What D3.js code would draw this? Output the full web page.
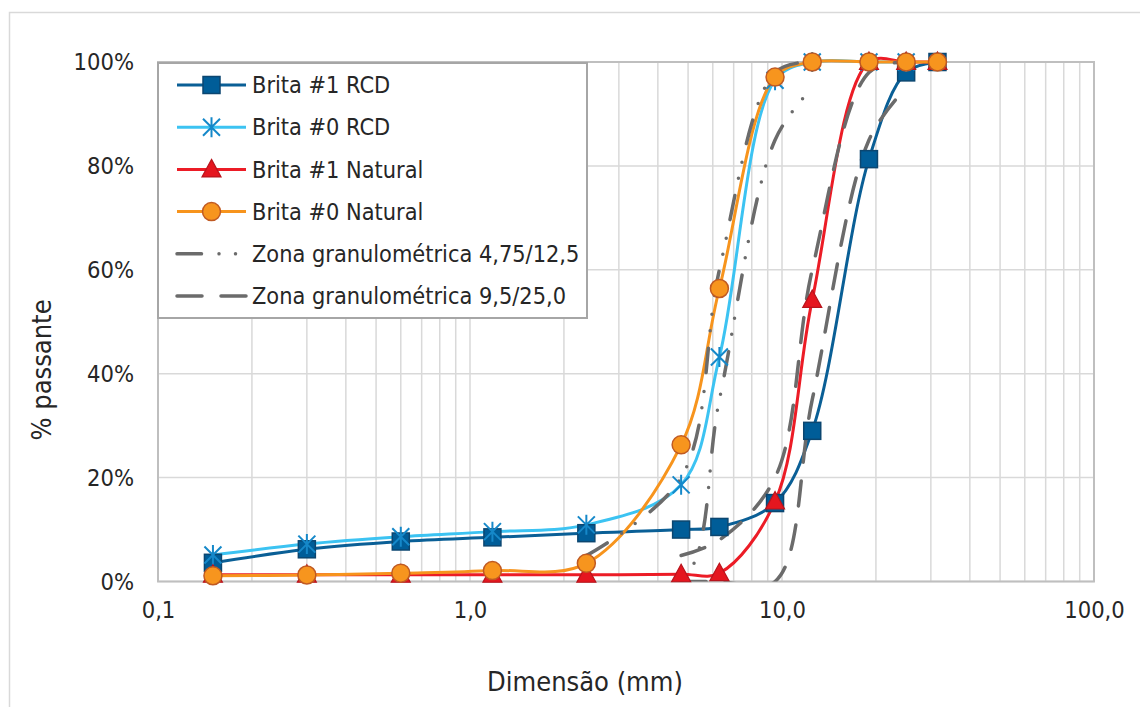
<!DOCTYPE html>
<html>
<head>
<meta charset="utf-8">
<script src="https://cdn.jsdelivr.net/npm/d3@7"></script>
<style>
  html, body { margin: 0; padding: 0; background: #fff; }
  svg { display: block; }
  text { font-family: "DejaVu Sans Condensed", "DejaVu Sans", sans-serif; fill: #262626; }
</style>
</head>
<body>
<svg id="chart" width="1140" height="707"></svg>
<script>
// Sieve openings (mm) used for every grading curve
const sieves = [0.15, 0.3, 0.6, 1.18, 2.36, 4.75, 6.3, 9.5, 12.5, 19, 25, 31.5];

// Percent passing for each aggregate
const brita1RCD     = [3.6, 6.2, 7.7, 8.5, 9.3, 10.0, 10.5, 15.1, 29.0, 81.3, 98.0, 100];
const brita0RCD     = [5.1, 7.2, 8.6, 9.6, 10.9, 18.6, 43.2, 96.5, 100, 100, 100];
const brita1Natural = [1.3, 1.3, 1.3, 1.3, 1.3, 1.4, 1.6, 15.4, 54.2, 100, 100, 100];
const brita0Natural = [1.1, 1.25, 1.6, 2.1, 3.5, 26.3, 56.4, 97.1, 100, 100, 100, 100];

// NBR 7211 grading zone limits (percent passing)
const zone475Sieves = [2.36, 4.75, 6.3, 9.5, 12.5];
const zone475Lower  = [0, 0, 35, 85, 95];
const zone475Upper  = [5, 20, 60, 98, 100];
const zone95Sieves  = [4.75, 6.3, 9.5, 12.5, 19, 25];
const zone95Lower   = [0, 0, 0, 35, 85, 95];
const zone95Upper   = [5, 8, 20, 60, 98, 100];

// Axis ticks
const xTickValues = [0.1, 1, 10, 100];
const xTickLabels = ["0,1", "1,0", "10,0", "100,0"];
const yTickValues = [0, 20, 40, 60, 80, 100];

const legendNames = [
  "Brita #1 RCD", "Brita #0 RCD", "Brita #1 Natural", "Brita #0 Natural",
  "Zona granulométrica 4,75/12,5", "Zona granulométrica 9,5/25,0"
];

const svg = d3.select("#chart");
const W = 1140, H = 707;
const plot = { left: 158, right: 1094, top: 62, bottom: 581.5 };

const x = d3.scaleLog().domain([0.1, 100]).range([plot.left, plot.right]);
const y = d3.scaleLinear().domain([0, 100]).range([plot.bottom, plot.top]);

// outer chart frame
svg.append("rect").attr("x", 9.5).attr("y", 12.5).attr("width", W + 20).attr("height", H + 20)
  .attr("fill", "#fff").attr("stroke", "#d9d9d9").attr("stroke-width", 1.5);

// gridlines
const minorX = [];
for (let dec = 0.1; dec < 100; dec *= 10) {
  for (let k = 1; k <= 9; k++) minorX.push(+(dec * k).toPrecision(3));
}
minorX.push(100);
const grid = svg.append("g").attr("stroke", "#d9d9d9").attr("stroke-width", 1.5);
grid.selectAll("line.vx").data(minorX).join("line")
  .attr("x1", d => x(d)).attr("x2", d => x(d))
  .attr("y1", plot.top).attr("y2", plot.bottom);
grid.selectAll("line.hy").data(yTickValues).join("line")
  .attr("x1", plot.left).attr("x2", plot.right)
  .attr("y1", d => y(d)).attr("y2", d => y(d));

// plot frame
svg.append("rect").attr("x", plot.left).attr("y", plot.top)
  .attr("width", plot.right - plot.left).attr("height", plot.bottom - plot.top)
  .attr("fill", "none").attr("stroke", "#bfbfbf").attr("stroke-width", 2);

// clip for curves
svg.append("clipPath").attr("id", "plotClip").append("rect")
  .attr("x", plot.left - 12).attr("y", plot.top - 12)
  .attr("width", plot.right - plot.left + 24).attr("height", plot.bottom - plot.top + 12);

const line = d3.line()
  .x(d => x(d[0])).y(d => y(d[1]))
  .curve(d3.curveCatmullRom.alpha(0.5));

const pair = (xs, ys) => ys.map((v, i) => [xs[i], v]);

const series = [
  { name: legendNames[0], data: pair(sieves, brita1RCD),     line: "#0a5f96", fill: "#005d98", stroke: "#0b4670", marker: "square" },
  { name: legendNames[1], data: pair(sieves, brita0RCD),     line: "#3cc3f2", fill: "none",    stroke: "#1588c9", marker: "star" },
  { name: legendNames[2], data: pair(sieves, brita1Natural), line: "#ec1c26", fill: "#e5161f", stroke: "#b8141c", marker: "triangle" },
  { name: legendNames[3], data: pair(sieves, brita0Natural), line: "#f7941d", fill: "#f7951e", stroke: "#c05a22", marker: "circle" }
];

const zoneDotted = "24.5,17.5,0,16.5,0,19";
const zoneDashed = "25,19";
const zoneColor = "#6b6b6b";
const zones = [
  { data: pair(zone475Sieves, zone475Lower), dash: zoneDotted },
  { data: pair(zone475Sieves, zone475Upper), dash: zoneDotted },
  { data: pair(zone95Sieves, zone95Lower),   dash: zoneDashed },
  { data: pair(zone95Sieves, zone95Upper),   dash: zoneDashed }
];

const curves = svg.append("g").attr("clip-path", "url(#plotClip)");
curves.selectAll("path.s").data(series).join("path")
  .attr("d", d => line(d.data)).attr("fill", "none")
  .attr("stroke", d => d.line).attr("stroke-width", 3).attr("stroke-linejoin", "round");
curves.selectAll("path.z").data(zones).join("path")
  .attr("d", d => line(d.data)).attr("fill", "none")
  .attr("stroke", zoneColor).attr("stroke-width", 3.5)
  .attr("stroke-dasharray", d => d.dash).attr("stroke-linecap", "round");

function drawMarker(g, type, fill, stroke) {
  if (type === "square") {
    g.append("rect").attr("x", -8.5).attr("y", -8.5).attr("width", 17).attr("height", 17)
      .attr("fill", fill).attr("stroke", stroke).attr("stroke-width", 1.5);
  } else if (type === "circle") {
    g.append("circle").attr("r", 9).attr("fill", fill).attr("stroke", stroke).attr("stroke-width", 1.5);
  } else if (type === "triangle") {
    g.append("path").attr("d", "M0,-10L9.5,7.5L-9.5,7.5Z")
      .attr("fill", fill).attr("stroke", stroke).attr("stroke-width", 1.2);
  } else if (type === "star") {
    g.append("path").attr("d", "M0,-10L0,10M-8.5,-8.5L8.5,8.5M-8.5,8.5L8.5,-8.5")
      .attr("fill", "none").attr("stroke", stroke).attr("stroke-width", 2);
  }
}

series.forEach(s => {
  const mg = svg.append("g");
  s.data.forEach(d => {
    const g = mg.append("g").attr("transform", `translate(${x(d[0])},${y(d[1])})`);
    drawMarker(g, s.marker, s.fill, s.stroke);
  });
});

// axis labels
const yAxis = d3.axisLeft(y).tickValues(yTickValues).tickFormat(d => d + "%").tickSize(0).tickPadding(24);
const yg = svg.append("g").attr("transform", `translate(${plot.left},0)`).call(yAxis);
yg.select(".domain").remove();
yg.selectAll("text").attr("font-size", 23.5).attr("fill", "#262626")
  .style("font-family", '"DejaVu Sans Condensed", "DejaVu Sans", sans-serif');

const xAxis = d3.axisBottom(x).tickValues(xTickValues).tickFormat((d, i) => xTickLabels[i]).tickSize(0).tickPadding(20);
const xg = svg.append("g").attr("transform", `translate(0,${plot.bottom})`).call(xAxis);
xg.select(".domain").remove();
xg.selectAll("text").attr("font-size", 23.5).attr("fill", "#262626")
  .style("font-family", '"DejaVu Sans Condensed", "DejaVu Sans", sans-serif');

svg.append("text").attr("x", 585).attr("y", 691).attr("text-anchor", "middle")
  .attr("font-size", 27).text("Dimensão (mm)");
svg.append("text").attr("transform", "translate(51,370) rotate(-90)").attr("text-anchor", "middle")
  .attr("font-size", 27).text("% passante");

// legend
const legend = svg.append("g");
legend.append("rect").attr("x", 158).attr("y", 63).attr("width", 429).attr("height", 255)
  .attr("fill", "#fff").attr("stroke", "#a6a6a6").attr("stroke-width", 2);
const legendItems = [
  ...series.map(s => ({ name: s.name, color: s.line, marker: s.marker, fill: s.fill, stroke: s.stroke })),
  { name: legendNames[4], color: zoneColor, dash: zoneDotted },
  { name: legendNames[5], color: zoneColor, dash: zoneDashed }
];
legendItems.forEach((it, i) => {
  const cy = 85 + i * 42.2;
  const g = legend.append("g");
  g.append("line").attr("x1", 177).attr("x2", 246).attr("y1", cy).attr("y2", cy)
    .attr("stroke", it.color).attr("stroke-width", it.dash ? 3.5 : 3)
    .attr("stroke-dasharray", it.dash || null).attr("stroke-linecap", it.dash ? "round" : "butt");
  if (it.marker) {
    const m = g.append("g").attr("transform", `translate(211.5,${cy})`);
    drawMarker(m, it.marker, it.fill, it.stroke);
  }
  g.append("text").attr("x", 252).attr("y", cy).attr("dy", "0.35em")
    .attr("font-size", 23.3).text(it.name);
});
</script>
</body>
</html>
